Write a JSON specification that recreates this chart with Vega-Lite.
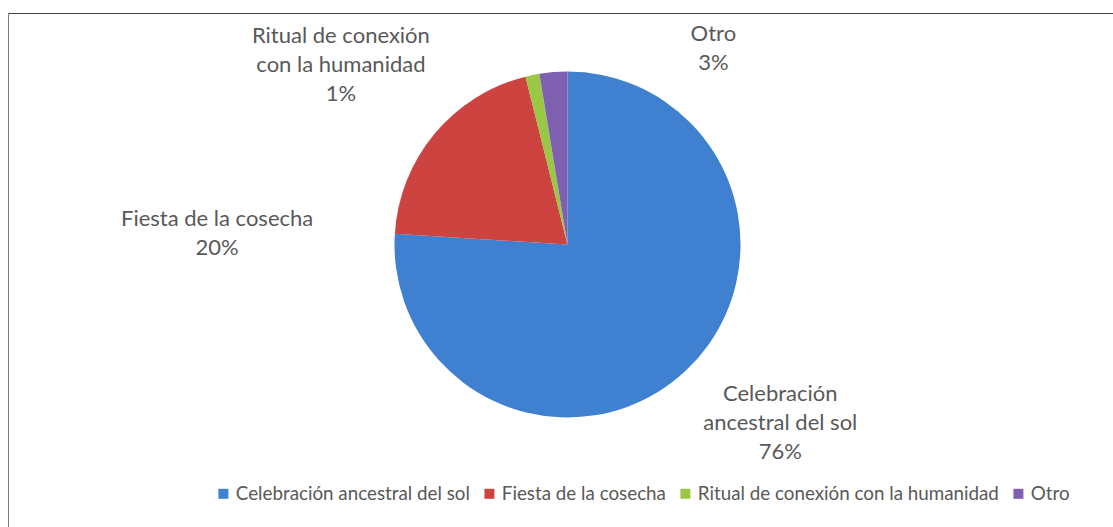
{
  "$schema": "https://vega.github.io/schema/vega-lite/v6.json",
  "width": 1119,
  "height": 463,
  "padding": {"left": 8, "top": 13, "right": 0, "bottom": 0},
  "background": "white",
  "config": {
    "view": {"stroke": null},
    "font": "Lato"
  },
  "data": {
    "values": [
      {"categoria": "Celebración ancestral del sol", "orden": 1, "valor": 76.0, "etiqueta": ["Celebración", "ancestral del sol", "76%"]},
      {"categoria": "Fiesta de la cosecha", "orden": 2, "valor": 20.1, "etiqueta": ["Fiesta de la cosecha", "20%"]},
      {"categoria": "Ritual de conexión con la humanidad", "orden": 3, "valor": 1.3, "etiqueta": ["Ritual de conexión", "con la humanidad", "1%"]},
      {"categoria": "Otro", "orden": 4, "valor": 2.6, "etiqueta": ["Otro", "3%"]}
    ]
  },
  "layer": [
    {
      "mark": {"type": "point", "opacity": 0, "size": 0},
      "encoding": {
        "x": {"datum": 0.5, "type": "quantitative", "scale": {"domain": [0, 1]},
              "axis": {"orient": "top", "domain": true, "domainColor": "#404040", "domainWidth": 1, "ticks": false, "labels": false, "grid": false, "title": null, "minExtent": 0}},
        "y": {"datum": 0.5, "type": "quantitative", "scale": {"domain": [0, 1], "range": [514, 0]},
              "axis": {"orient": "left", "domain": true, "domainColor": "#7a7a7a", "domainWidth": 1, "ticks": false, "labels": false, "grid": false, "title": null, "minExtent": 0}}
      }
    },
    {
      "mark": {"type": "arc", "outerRadius": 173},
      "encoding": {
        "theta": {"field": "valor", "type": "quantitative", "stack": true},
        "order": {"field": "orden", "type": "quantitative"},
        "color": {
          "field": "categoria",
          "type": "nominal",
          "scale": {
            "domain": ["Celebración ancestral del sol", "Fiesta de la cosecha", "Ritual de conexión con la humanidad", "Otro"],
            "range": ["#4080D0", "#CC4340", "#9BC746", "#7F5FB0"]
          },
          "legend": {
            "title": null,
            "orient": "none",
            "legendX": 206,
            "legendY": 471,
            "direction": "horizontal",
            "symbolType": "square",
            "symbolSize": 100,
            "symbolStrokeWidth": 0,
            "labelFont": "Lato",
            "labelFontSize": 18.8,
            "labelColor": "#595959",
            "labelOffset": 3,
            "columnPadding": 10,
            "labelLimit": 600
          }
        }
      }
    },
    {
      "mark": {
        "type": "text",
        "radius": 210,
        "font": "Lato",
        "fontSize": 22,
        "lineHeight": 29,
        "align": "center",
        "baseline": "middle",
        "fill": "#595959",
        "dx": {"expr": "datum.categoria === 'Celebración ancestral del sol' ? 69 : datum.categoria === 'Fiesta de la cosecha' ? -189 : datum.categoria === 'Ritual de conexión con la humanidad' ? -184 : 163"},
        "dy": {"expr": "datum.categoria === 'Celebración ancestral del sol' ? -4 : datum.categoria === 'Fiesta de la cosecha' ? 109 : datum.categoria === 'Ritual de conexión con la humanidad' ? -3 : -1"}
      },
      "encoding": {
        "theta": {"field": "valor", "type": "quantitative", "stack": true},
        "order": {"field": "orden", "type": "quantitative"},
        "detail": {"field": "categoria", "type": "nominal"},
        "text": {"field": "etiqueta", "type": "nominal"}
      }
    }
  ]
}
